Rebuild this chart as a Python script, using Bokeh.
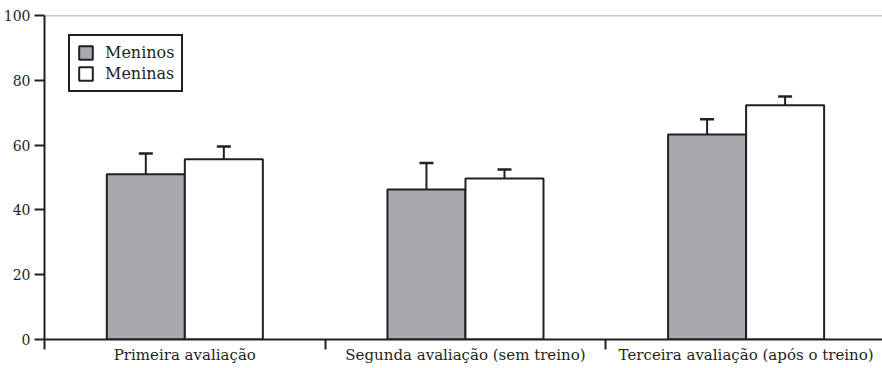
from bokeh.plotting import figure
from bokeh.models import (ColumnDataSource, Range1d, FixedTicker, Whisker, TeeHead,
                          Span, Legend, LegendItem)
from bokeh.transform import dodge
from bokeh.embed import file_html
from bokeh.resources import INLINE

categories = ["Primeira avaliação", "Segunda avaliação (sem treino)",
              "Terceira avaliação (após o treino)"]
meninos = [51.0, 46.3, 63.3]
meninos_err = [6.4, 8.2, 4.7]
meninas = [55.6, 49.7, 72.3]
meninas_err = [4.0, 2.8, 2.7]
y_ticks = [0, 20, 40, 60, 80, 100]

FONT = "DejaVu Serif"
INK = "#231f20"
GREY = "#a7a9ac"

centers = [i + 0.5 for i in range(len(categories))]
bounds = [float(i) for i in range(len(categories))]

src = ColumnDataSource(dict(
    x=centers,
    boys=meninos, boys_up=[v + e for v, e in zip(meninos, meninos_err)],
    girls=meninas, girls_up=[v + e for v, e in zip(meninas, meninas_err)],
))

p = figure(width=882, height=368, output_backend="svg", toolbar_location=None,
           x_range=Range1d(0, 2.986), y_range=Range1d(0, 100),
           min_border_left=43, min_border_top=15, min_border_right=0,
           min_border_bottom=29, outline_line_color=None,
           background_fill_color="white", border_fill_color="white")
p.xgrid.visible = False
p.ygrid.visible = False

bw = 0.278
r_boys = p.vbar(x=dodge("x", -bw / 2, range=p.x_range), top="boys", width=bw, bottom=0,
                source=src, fill_color=GREY, line_color=INK, line_width=2)
r_girls = p.vbar(x=dodge("x", bw / 2, range=p.x_range), top="girls", width=bw, bottom=0,
                 source=src, fill_color="white", line_color=INK, line_width=2)

for xs, lo, hi in [(-bw / 2, "boys", "boys_up"), (bw / 2, "girls", "girls_up")]:
    w = Whisker(source=src, base=dodge("x", xs, range=p.x_range), lower=lo, upper=hi,
                line_color=INK, line_width=2, lower_head=None,
                upper_head=TeeHead(size=14, line_color=INK, line_width=2.5))
    p.add_layout(w)

p.add_layout(Span(location=100, dimension="width", line_color="#8c8c8c", line_width=1.5))

# x axis: labels at category centres, tick marks at category boundaries
xa = p.xaxis[0]
xa.ticker = FixedTicker(ticks=centers, minor_ticks=bounds)
xa.major_label_overrides = {c: lab for c, lab in zip(centers, categories)}
xa.major_tick_line_color = None
xa.major_tick_out = 0
xa.major_tick_in = 0
xa.minor_tick_out = 10
xa.minor_tick_in = 0
xa.minor_tick_line_color = INK
xa.minor_tick_line_width = 2
xa.axis_line_color = INK
xa.axis_line_width = 2
xa.major_label_standoff = -4
xa.major_label_text_font = FONT
xa.major_label_text_font_size = "15px"
xa.major_label_text_color = INK

ya = p.yaxis[0]
ya.ticker = FixedTicker(ticks=y_ticks, minor_ticks=[])
ya.major_tick_out = 10
ya.major_tick_in = 0
ya.major_tick_line_color = INK
ya.major_tick_line_width = 2
ya.axis_line_color = INK
ya.axis_line_width = 2
ya.major_label_standoff = 4
ya.major_label_text_font = FONT
ya.major_label_text_font_size = "14px"
ya.major_label_text_color = INK

legend = Legend(items=[LegendItem(label="Meninos", renderers=[r_boys]),
                       LegendItem(label="Meninas", renderers=[r_girls])],
                location=(24, 247), border_line_color=INK, border_line_width=2,
                border_line_alpha=1,
                label_text_font=FONT, label_text_font_size="16px", label_text_color=INK,
                glyph_width=17, glyph_height=17, label_height=17, label_standoff=11,
                padding=7, spacing=2, margin=0, background_fill_alpha=1)
p.add_layout(legend)

open("out.html", "w").write(file_html(p, INLINE))
